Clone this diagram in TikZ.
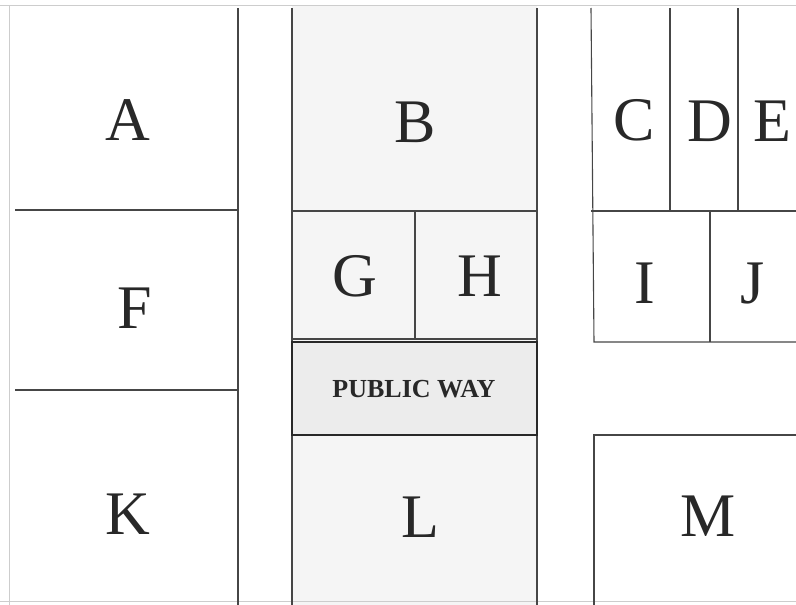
\documentclass[tikz,border=0pt]{standalone}
\usepackage{fontspec}
\setmainfont{Liberation Serif}
\definecolor{lotline}{RGB}{70,70,70}
\definecolor{edgegrey}{RGB}{205,205,205}
\definecolor{stripfill}{RGB}{245,245,245}
\definecolor{wayfill}{RGB}{236,236,236}
\definecolor{inkgrey}{RGB}{40,40,40}

\begin{document}
\begin{tikzpicture}[x=1pt, y=-1pt,
    lot/.style={draw=lotline, line width=1.1pt},
    edge/.style={draw=edgegrey, line width=1pt},
    way/.style={draw=inkgrey, line width=1.7pt, fill=wayfill},
    lotlabel/.style={font=\fontsize{62}{62}\selectfont, text=inkgrey, inner sep=0pt},
    waylabel/.style={font=\bfseries\fontsize{26}{26}\selectfont, text=inkgrey, inner sep=0pt}
]
    \useasboundingbox (0,0) rectangle (796,605);
    % shaded middle strip
    \fill[stripfill] (292,5) rectangle (537,605);
    % sheet edges
    \draw[edge] (0,5) -- (796,5);
    \draw[edge] (9,5) -- (9,605);
    \draw[edge] (0,601) -- (796,601);
    % left column
    \draw[lot] (238,8) -- (238,605);
    \draw[lot] (15,210) -- (238,210);
    \draw[lot] (15,390) -- (238,390);
    % middle strip
    \draw[lot] (292,8) -- (292,605);
    \draw[lot] (537,8) -- (537,605);
    \draw[lot] (292,211) -- (537,211);
    \draw[lot] (415,211) -- (415,339);
    \draw[lot] (292,339) -- (537,339);
    \draw[way] (292,342) rectangle (537,435);
    % right column
    \draw[lot] (591,8) -- (594,342) -- (796,342);
    \draw[lot] (591,211) -- (796,211);
    \draw[lot] (670,8) -- (670,211);
    \draw[lot] (738,8) -- (738,211);
    \draw[lot] (710,211) -- (710,342);
    \draw[lot] (594,605) -- (594,435) -- (796,435);
    % lot letters
    \node[lotlabel] (lotA) at (128,120) {A};
    \node[lotlabel] (lotB) at (415,122) {B};
    \node[lotlabel] (lotC) at (634,120) {C};
    \node[lotlabel] (lotD) at (710,121) {D};
    \node[lotlabel] (lotE) at (772,121) {E};
    \node[lotlabel] (lotF) at (135,308) {F};
    \node[lotlabel] (lotG) at (355,276) {G};
    \node[lotlabel] (lotH) at (480,276) {H};
    \node[lotlabel] (lotI) at (645,283) {I};
    \node[lotlabel] (lotJ) at (753,284) {J};
    \node[lotlabel] (lotK) at (128,514) {K};
    \node[lotlabel] (lotL) at (420,517) {L};
    \node[lotlabel] (lotM) at (708,516) {M};
    \node[waylabel] (pubway) at (414,389) {PUBLIC WAY};
\end{tikzpicture}
\end{document}
